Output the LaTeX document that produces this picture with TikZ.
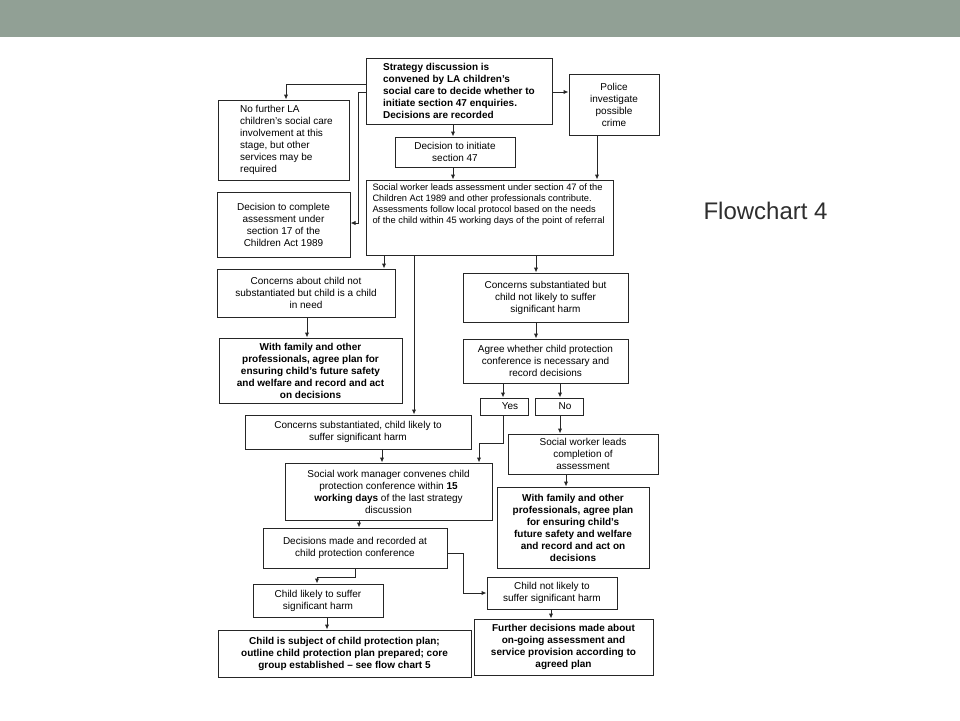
\documentclass[tikz,border=0pt]{standalone}
\usepackage{fontspec}
\setmainfont{Liberation Sans}
\usetikzlibrary{arrows.meta}
\definecolor{slidebar}{HTML}{91A095}
\definecolor{titlegray}{HTML}{2E2E2E}
\definecolor{boxline}{HTML}{262626}

\begin{document}
\begin{tikzpicture}[x=1pt, y=-1pt,
    box/.style={draw=boxline, line width=1pt, inner sep=2pt, align=center, font=\fontsize{10}{12}\selectfont},
    boldbox/.style={box, font=\fontsize{10}{12}\selectfont\bfseries},
    arr/.style={draw=boxline, line width=1pt, -{Latex[length=5pt,width=4.5pt]}}]
        \useasboundingbox (0,0) rectangle (960,720);

        % Slide bar and title
        \fill[slidebar] (0,0) rectangle (960,37);
        \node[anchor=base west, text=titlegray, font=\fontsize{24}{28}\selectfont] (title) at (700,219) {Flowchart 4};

        % Top row
        \node[boldbox, align=left, minimum width=186pt, minimum height=66pt] (strat) at (459,91)
            {Strategy discussion is\\convened by LA children's\\social care to decide whether to\\initiate section 47 enquiries.\\Decisions are recorded};
        \node[box, minimum width=90pt, minimum height=61pt] (police) at (614,104.5)
            {Police\\investigate\\possible\\crime};
        \node[box, align=left, minimum width=131pt, minimum height=80pt] (nofurther) at (283.5,140)
            {\hspace{6pt}No further LA\\\hspace{6pt}children's social care\\\hspace{6pt}involvement at this\\\hspace{6pt}stage, but other\\\hspace{6pt}services may be\\\hspace{6pt}required};
        \node[box, minimum width=120pt, minimum height=30pt] (init) at (455,152)
            {Decision to initiate\\section 47};

        % Assessment
        \node[box, minimum width=247pt, minimum height=75pt] (sw) at (489.5,217.5)
            {\parbox[c][68pt][t]{234pt}{\raggedright\fontsize{9.3}{11}\selectfont Social worker leads assessment under section 47 of the\\Children Act 1989 and other professionals contribute.\\Assessments follow local protocol based on the needs\\of the child within 45 working days of the point of referral}};
        \node[box, minimum width=133pt, minimum height=65pt] (sect) at (283.5,224.5)
            {Decision to complete\\assessment under\\section 17 of the\\Children Act 1989};

        % Outcomes of assessment
        \node[box, minimum width=178pt, minimum height=48pt] (inneed) at (306,293)
            {Concerns about child not\\substantiated but child is a child\\in need};
        \node[box, minimum width=165pt, minimum height=49pt] (notlikely) at (545.5,297.5)
            {Concerns substantiated but\\child not likely to suffer\\significant harm};
        \node[boldbox, minimum width=183pt, minimum height=65pt] (planleft) at (310.5,370.5)
            {With family and other\\professionals, agree plan for\\ensuring child's future safety\\and welfare and record and act\\on decisions};
        \node[box, minimum width=165pt, minimum height=44pt] (agree) at (545.5,361)
            {Agree whether child protection\\conference is necessary and\\record decisions};
        \node[box, minimum width=48pt, minimum height=17pt, inner sep=0pt] (yes) at (504,406.5) {\hspace{12pt}Yes};
        \node[box, minimum width=48pt, minimum height=17pt, inner sep=0pt] (no) at (559,406.5) {\hspace{12pt}No};
        \node[box, minimum width=226pt, minimum height=34pt] (likely) at (358,432)
            {Concerns substantiated, child likely to\\suffer significant harm};
        \node[box, minimum width=150pt, minimum height=40pt] (swdone) at (583,454)
            {Social worker leads\\completion of\\assessment};

        % Conference
        \node[box, minimum width=207pt, minimum height=57pt] (manager) at (388.5,491.5)
            {Social work manager convenes child\\protection conference within \textbf{15}\\\textbf{working days} of the last strategy\\discussion};
        \node[boldbox, minimum width=152pt, minimum height=81pt] (planright) at (573,527.5)
            {With family and other\\professionals, agree plan\\for ensuring child's\\future safety and welfare\\and record and act on\\decisions};
        \node[box, minimum width=184pt, minimum height=40pt] (decided) at (355,548)
            {Decisions made and recorded at\\child protection conference};

        % Bottom row
        \node[box, minimum width=130pt, minimum height=33pt] (harm) at (318,600.5)
            {Child likely to suffer\\significant harm};
        \node[box, minimum width=130pt, minimum height=32pt] (noharm) at (552,593)
            {Child not likely to\\suffer significant harm};
        \node[boldbox, minimum width=253pt, minimum height=47pt] (cpplan) at (344.5,653.5)
            {Child is subject of child protection plan;\\outline child protection plan prepared; core\\group established – see flow chart 5};
        \node[boldbox, minimum width=179pt, minimum height=56pt] (further) at (563.5,647)
            {Further decisions made about\\on-going assessment and\\service provision according to\\agreed plan};

        % Arrows from strategy discussion
        \draw[arr] ([yshift=7pt]strat.west) -| (nofurther.north -| 286,0);
        \draw[arr] ([yshift=-1pt]strat.west) -| (358,223) -- (sect.east |- 358,223);
        \draw[arr] ([yshift=-1pt]strat.east) -- ([yshift=-1pt]strat.east -| police.west);
        \draw[arr] (strat.south -| 453,0) -- (init.north -| 453,0);
        \draw[arr] (init.south -| 453,0) -- (sw.north -| 453,0);
        \draw[arr] (police.south -| 597,0) -- (sw.north -| 597,0);

        % Arrows from assessment
        \draw[arr] (sw.south -| 384,0) -- (inneed.north -| 384,0);
        \draw[arr] (sw.south -| 414,0) -- (likely.north -| 414,0);
        \draw[arr] (sw.south -| 536,0) -- (notlikely.north -| 536,0);
        \draw[arr] (inneed.south -| 307,0) -- (planleft.north -| 307,0);
        \draw[arr] (notlikely.south -| 536,0) -- (agree.north -| 536,0);
        \draw[arr] (agree.south -| 503,0) -- (yes.north -| 503,0);
        \draw[arr] (agree.south -| 560,0) -- (no.north -| 560,0);
        \draw[arr] (likely.south -| 382,0) -- (manager.north -| 382,0);
        \draw[arr] (yes.south -| 503,0) |- (479,443) -- (manager.north -| 479,0);
        \draw[arr] (no.south -| 560,0) -- (swdone.north -| 560,0);
        \draw[arr] (swdone.south -| 566,0) -- (planright.north -| 566,0);

        % Arrows from conference
        \draw[arr] (manager.south -| 359,0) -- (decided.north -| 359,0);
        \draw[arr] ([yshift=-5pt]decided.east) -| (463,593) -- (noharm.west);
        \draw[arr] (decided.south -| 355,0) |- (317,577) -- (harm.north -| 317,0);
        \draw[arr] (harm.south -| 327,0) -- (cpplan.north -| 327,0);
        \draw[arr] (noharm.south -| 551,0) -- (further.north -| 551,0);
    \end{tikzpicture}
\end{document}
